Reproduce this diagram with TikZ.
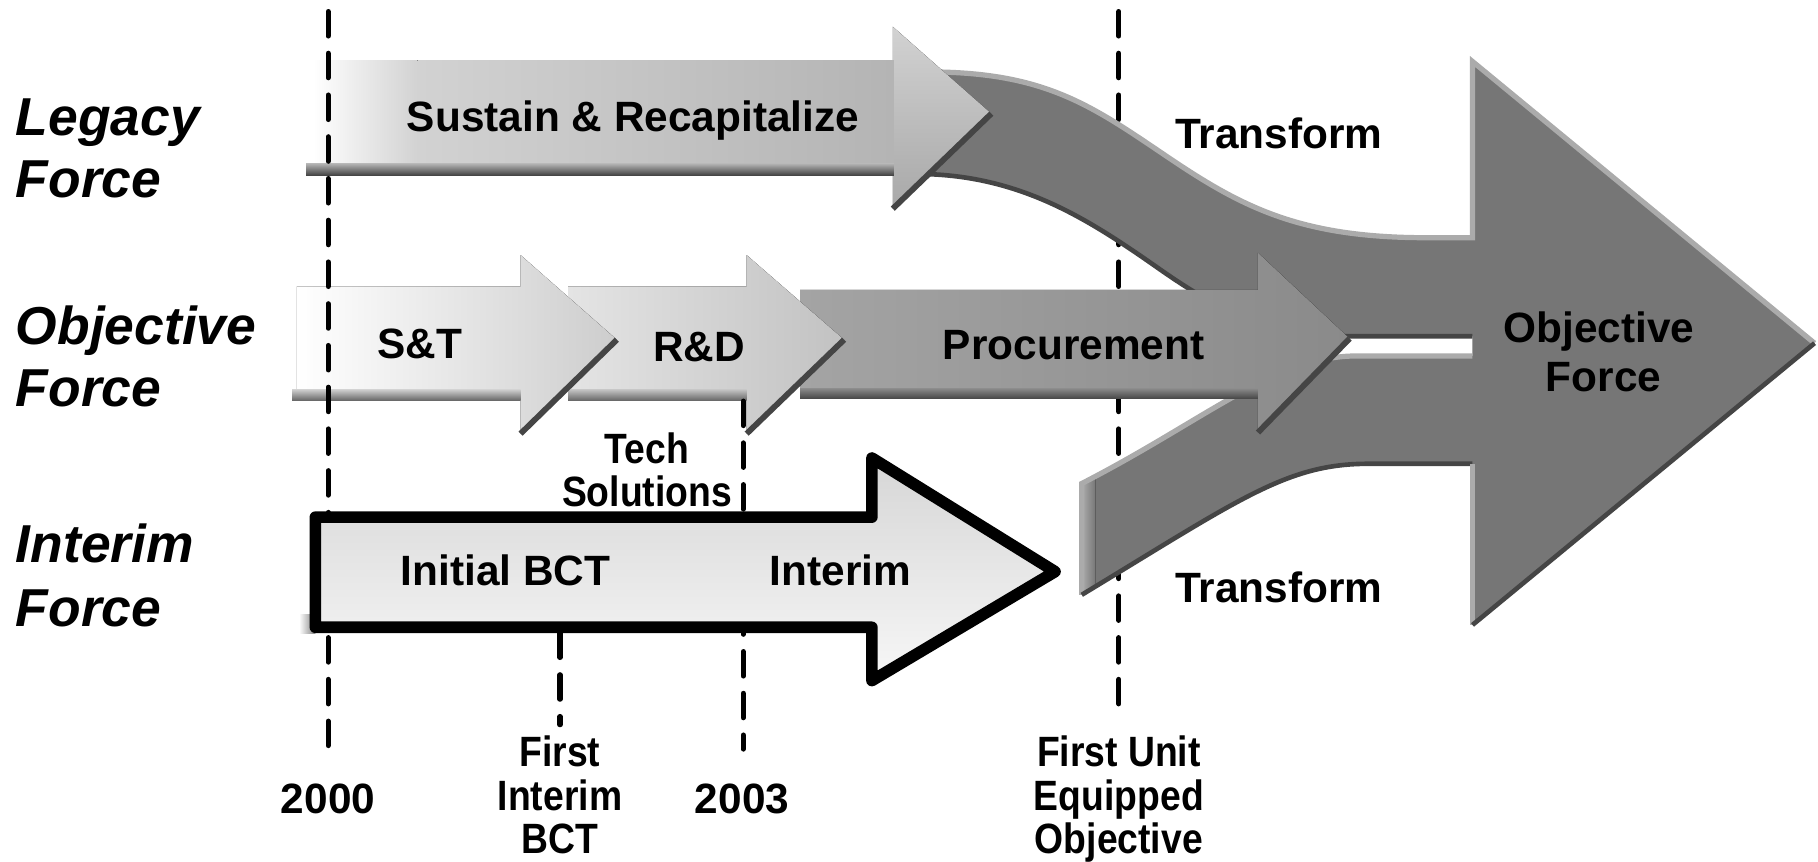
\documentclass[tikz,border=0pt]{standalone}
\usepackage{fontspec}
\setmainfont{Liberation Sans}
\usepackage{tikz}

\definecolor{bandgray}{HTML}{767676}
\definecolor{legacylight}{HTML}{D2D2D2}
\definecolor{legacymid}{HTML}{B4B4B4}
\definecolor{legacyhead}{HTML}{A8A8A8}
\definecolor{procleft}{HTML}{A4A4A4}
\definecolor{procright}{HTML}{8A8A8A}
\definecolor{rdleft}{HTML}{E4E4E4}
\definecolor{rdright}{HTML}{C2C2C2}
\definecolor{stright}{HTML}{CDCDCD}
\definecolor{interimtop}{HTML}{D6D6D6}
\definecolor{interimbot}{HTML}{F7F7F7}
\definecolor{shadowgray}{HTML}{454545}
\definecolor{edgelight}{HTML}{ABABAB}

\newcommand{\narrowtext}[1]{\scalebox{0.88}[1]{#1}}

\tikzset{
  milestone/.style={line width=0.45mm, dash pattern=on 2.1mm off 1.5mm, line cap=round},
  lbl/.style={font=\bfseries\fontsize{10.4}{10.8}\selectfont, inner sep=0pt, anchor=base},
  rowlbl/.style={font=\bfseries\itshape\fontsize{13.1}{15}\selectfont, inner sep=0pt, anchor=base west},
  hilite/.style={edgelight, line width=0.45mm},
  lowlite/.style={shadowgray, line width=0.4mm},
}

\begin{document}
\begin{tikzpicture}[x=0.1mm, y=-0.1mm]
    \useasboundingbox (0,0) rectangle (1568,743);

    \coordinate (fueTop) at (965,10);
    \coordinate (fueEnd) at (965,610);
    \draw[milestone] (fueTop) -- (fueEnd);

    % objective force arrow and the two bands feeding it
    \fill[bandgray] (1270,53) -- (1565,296) -- (1270,539) -- cycle;
    \fill[bandgray] (790,62) .. controls (900,62) and (940,90) .. (1005,134)
        .. controls (1070,178) and (1120,205) .. (1230,205) -- (1275,205) -- (1275,290) -- (1170,290)
        .. controls (1100,290) and (1060,274) .. (1000,232) .. controls (940,190) and (880,150) .. (790,150) -- cycle;
    \fill[bandgray] (933,417) .. controls (1040,362) and (1100,307) .. (1170,307) -- (1275,307) -- (1275,400)
        -- (1180,400) .. controls (1110,400) and (1070,430) .. (933,513) -- cycle;
    \fill[left color=edgelight, right color=bandgray] (933,417) -- (945,411) -- (945,506) -- (933,513) -- cycle;
    \draw[hilite] (800,62) .. controls (900,62) and (940,90) .. (1005,134)
        .. controls (1070,178) and (1120,205) .. (1230,205) -- (1270,205) -- (1270,53) -- (1565,296);
    \draw[lowlite] (790,150) .. controls (880,150) and (940,190) .. (1000,232) .. controls (1060,274) and (1100,290) .. (1170,290) -- (1270,290);
    \draw[hilite] (933,513) -- (933,417) .. controls (1040,362) and (1100,307) .. (1170,307) -- (1270,307);
    \draw[lowlite] (933,513) .. controls (1070,430) and (1110,400) .. (1180,400) -- (1270,400);
    \draw[hilite] (1270,400) -- (1270,539);
    \draw[lowlite] (1565,296) -- (1270,539);

    % legacy force
    \fill[top color=legacylight, bottom color=legacyhead] (770,52) -- (770,23) -- (855,98) -- (770,180) -- (770,150) -- cycle;
    \fill[left color=white, right color=legacylight] (270,52) rectangle (360,150);
    \fill[left color=legacylight, right color=legacymid] (360,52) rectangle (771,150);
    \fill[top color=legacymid, bottom color=shadowgray] (264,141) rectangle (771,151);
    \draw[lowlite, line width=0.5mm] (855,98) -- (770,180);

    % objective force
    \fill[left color=procleft, right color=procright] (690,250) -- (1085,250) -- (1085,218) -- (1164,292)
        -- (1085,373) -- (1085,343) -- (690,343) -- cycle;
    \fill[top color=procright, bottom color=shadowgray] (690,335) rectangle (1085,344);
    \draw[lowlite, line width=0.5mm] (1164,292) -- (1085,373);

    \fill[left color=rdleft, right color=rdright] (490,247) -- (644,247) -- (644,220) -- (728,293)
        -- (644,374) -- (644,344) -- (490,344) -- cycle;
    \fill[top color=rdright, bottom color=shadowgray!80] (490,336) rectangle (644,345);
    \draw[lowlite, line width=0.5mm] (728,293) -- (644,374);

    \fill[left color=white, right color=stright] (256,247) -- (449,247) -- (449,220) -- (532,293)
        -- (449,374) -- (449,344) -- (256,344) -- cycle;
    \fill[top color=stright, bottom color=shadowgray!80] (252,336) rectangle (449,345);
    \draw[lowlite, line width=0.5mm] (532,293) -- (449,374);

    \draw[milestone] (283,10) -- (283,647);
    \draw[milestone] (641,346) -- (641,646);
    \draw[milestone] (483,546) -- (483,625);

    % interim force
    \fill[left color=white, right color=gray] (258,530) rectangle (272,546);
    \draw[line width=1mm, line join=round, top color=interimtop, bottom color=interimbot]
        (272,446) -- (752,446) -- (752,395) -- (910,493) -- (752,587) -- (752,541) -- (272,541) -- cycle;

    \node[rowlbl] (legacyA) at (13,117) {Legacy};
    \node[rowlbl] (legacyB) at (13,170) {Force};
    \node[rowlbl] (objectiveA) at (13,297) {Objective};
    \node[rowlbl] (objectiveB) at (13,351) {Force};
    \node[rowlbl] (interimA) at (13,485) {Interim};
    \node[rowlbl] (interimB) at (13,540) {Force};

    \node[lbl] (sustain) at (546,113) {Sustain \& Recapitalize};
    \node[lbl] (transUp) at (1103,128) {Transform};
    \node[lbl] (snt) at (362,309) {S\&T};
    \node[lbl] (rnd) at (603,312) {R\&D};
    \node[lbl] (proc) at (926,310) {Procurement};
    \node[lbl] (objA) at (1379,295) {Objective};
    \node[lbl] (objB) at (1383,338) {Force};
    \node[lbl] (techA) at (558,400) {\narrowtext{Tech}};
    \node[lbl] (techB) at (558,437) {\narrowtext{Solutions}};
    \node[lbl] (initial) at (436,505) {Initial BCT};
    \node[lbl] (interim) at (725,505) {Interim};
    \node[lbl] (transLo) at (1103,520) {Transform};

    \node[lbl] (y2000) at (283,702) {2000};
    \node[lbl] (bctA) at (483,661) {\narrowtext{First}};
    \node[lbl] (bctB) at (483,699) {\narrowtext{Interim}};
    \node[lbl] (bctC) at (483,736) {\narrowtext{BCT}};
    \node[lbl] (y2003) at (640,702) {2003};
    \node[lbl] (fueA) at (965,661) {\narrowtext{First Unit}};
    \node[lbl] (fueB) at (965,699) {\narrowtext{Equipped}};
    \node[lbl] (fueC) at (965,736) {\narrowtext{Objective}};
\end{tikzpicture}
\end{document}
